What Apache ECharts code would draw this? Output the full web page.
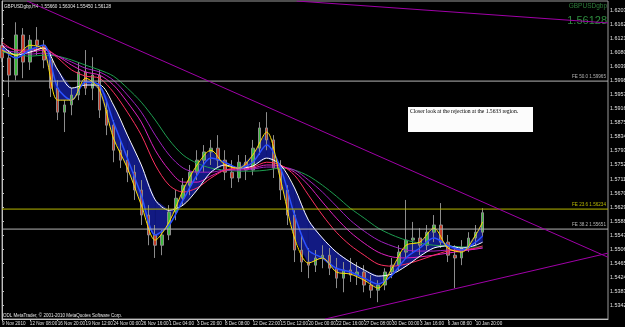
<!DOCTYPE html>
<html><head><meta charset="utf-8">
<script src="https://cdn.jsdelivr.net/npm/echarts@6/dist/echarts.min.js"></script>
<style>html,body{margin:0;padding:0;background:#000;}#c{width:625px;height:327px;}</style>
</head><body><div id="c"></div>
<script>
const tickLabels = ['9 Nov 2010','12 Nov 08:00','16 Nov 20:00','19 Nov 12:00','24 Nov 00:00','26 Nov 16:00','1 Dec 04:00','3 Dec 20:00','8 Dec 08:00','12 Dec 22:00','15 Dec 12:00','20 Dec 00:00','22 Dec 16:00','27 Dec 08:00','30 Dec 00:00','3 Jan 16:00','6 Jan 08:00','10 Jan 20:00'];
const slotCount = 88;
const opens = [1.6101,1.6064,1.6014,1.6131,1.6052,1.6116,1.6101,1.6058,1.5976,1.5906,1.5927,1.5956,1.6023,1.5976,1.6014,1.5912,1.5868,1.5795,1.5766,1.5731,1.5679,1.5606,1.5548,1.5518,1.5548,1.5615,1.5655,1.5693,1.5731,1.5766,1.5790,1.5801,1.5766,1.5731,1.5714,1.5760,1.5737,1.5801,1.5860,1.5825,1.5743,1.5679,1.5606,1.5504,1.5469,1.5460,1.5481,1.5489,1.5451,1.5422,1.5446,1.5431,1.5440,1.5402,1.5387,1.5402,1.5440,1.5460,1.5498,1.5533,1.5539,1.5518,1.5556,1.5577,1.5527,1.5489,1.5481,1.5510,1.5539,1.5556];
const closes = [1.6064,1.6014,1.6131,1.6052,1.6116,1.6101,1.6058,1.5976,1.5906,1.5927,1.5956,1.6023,1.5976,1.6014,1.5912,1.5868,1.5795,1.5766,1.5731,1.5679,1.5606,1.5548,1.5518,1.5548,1.5615,1.5655,1.5693,1.5731,1.5766,1.5790,1.5801,1.5766,1.5731,1.5714,1.5760,1.5737,1.5801,1.5860,1.5825,1.5743,1.5679,1.5606,1.5504,1.5469,1.5460,1.5481,1.5489,1.5451,1.5422,1.5446,1.5431,1.5440,1.5402,1.5387,1.5402,1.5440,1.5460,1.5498,1.5533,1.5539,1.5518,1.5556,1.5577,1.5527,1.5489,1.5481,1.5510,1.5539,1.5556,1.56128];
const lows = [1.6052,1.5950,1.5999,1.6005,1.6029,1.6072,1.6034,1.5950,1.5883,1.5848,1.5897,1.5941,1.5956,1.5941,1.5889,1.5839,1.5760,1.5743,1.5702,1.5650,1.5577,1.5518,1.5481,1.5489,1.5533,1.5591,1.5635,1.5664,1.5708,1.5731,1.5752,1.5743,1.5708,1.5685,1.5702,1.5708,1.5722,1.5781,1.5795,1.5714,1.5650,1.5577,1.5469,1.5440,1.5422,1.5440,1.5451,1.5431,1.5393,1.5381,1.5411,1.5402,1.5381,1.5364,1.5352,1.5387,1.5422,1.5446,1.5481,1.5498,1.5489,1.5504,1.5527,1.5510,1.5469,1.5393,1.5460,1.5498,1.5518,1.5545];
const highs = [1.6122,1.6087,1.6168,1.6151,1.6131,1.6154,1.6116,1.6081,1.5999,1.5941,1.5976,1.6052,1.6087,1.6066,1.6029,1.5941,1.5883,1.5825,1.5795,1.5752,1.5708,1.5635,1.5577,1.5562,1.5635,1.5679,1.5714,1.5752,1.5795,1.5810,1.5825,1.5839,1.5795,1.5766,1.5781,1.5781,1.5825,1.5877,1.5906,1.5839,1.5766,1.5693,1.5620,1.5548,1.5510,1.5504,1.5518,1.5510,1.5481,1.5469,1.5481,1.5469,1.5460,1.5431,1.5416,1.5451,1.5481,1.5518,1.5650,1.5586,1.5568,1.5577,1.5606,1.5641,1.5548,1.5518,1.5533,1.5556,1.5577,1.5626];

const maIdx = [0,2,4,6,8,10,12,14,16,18,20,22,24,26,28,30,32,34,36,38,40,42,44,46,48,50,52,54,56,58,60,62,64,66,68,69];
const maYellow = [1.6087,1.6072,1.6101,1.6087,1.5941,1.5941,1.6005,1.5970,1.5830,1.5743,1.5635,1.5533,1.5586,1.5679,1.5752,1.5795,1.5752,1.5743,1.5781,1.5848,1.5708,1.5539,1.5466,1.5481,1.5440,1.5434,1.5416,1.5393,1.5451,1.5518,1.5527,1.5568,1.5510,1.5498,1.5548,1.5586];
const maBlue = [1.6093,1.6064,1.6087,1.6101,1.5976,1.5941,1.5994,1.5985,1.5877,1.5772,1.5664,1.5548,1.5577,1.5650,1.5722,1.5772,1.5760,1.5743,1.5760,1.5810,1.5743,1.5606,1.5504,1.5481,1.5451,1.5440,1.5422,1.5405,1.5431,1.5481,1.5510,1.5539,1.5518,1.5504,1.5527,1.5545];
const maWhite = [1.6101,1.6072,1.6081,1.6093,1.6029,1.5976,1.5985,1.5985,1.5927,1.5839,1.5752,1.5650,1.5620,1.5635,1.5679,1.5731,1.5752,1.5743,1.5749,1.5772,1.5752,1.5685,1.5591,1.5539,1.5498,1.5469,1.5446,1.5428,1.5434,1.5457,1.5486,1.5510,1.5516,1.5510,1.5518,1.5527];
const maRibbon1 = [1.6110,1.6087,1.6087,1.6093,1.6064,1.6029,1.6011,1.6005,1.5964,1.5906,1.5839,1.5752,1.5693,1.5673,1.5685,1.5714,1.5737,1.5743,1.5746,1.5760,1.5752,1.5722,1.5664,1.5606,1.5556,1.5518,1.5489,1.5463,1.5457,1.5463,1.5475,1.5489,1.5501,1.5504,1.5510,1.5516];
const maRibbon2 = [1.6101,1.6087,1.6081,1.6087,1.6069,1.6043,1.6023,1.6014,1.5985,1.5935,1.5877,1.5795,1.5737,1.5702,1.5702,1.5720,1.5737,1.5740,1.5743,1.5752,1.5749,1.5731,1.5693,1.5644,1.5597,1.5556,1.5524,1.5498,1.5484,1.5481,1.5484,1.5489,1.5495,1.5501,1.5507,1.5510];
const maRibbon3 = [1.6087,1.6081,1.6075,1.6078,1.6069,1.6052,1.6034,1.6023,1.5999,1.5956,1.5906,1.5839,1.5781,1.5743,1.5731,1.5731,1.5737,1.5737,1.5740,1.5746,1.5746,1.5737,1.5708,1.5673,1.5632,1.5591,1.5559,1.5533,1.5516,1.5504,1.5501,1.5501,1.5504,1.5504,1.5507,1.5510];
const maGreen = [1.6081,1.6075,1.6069,1.6072,1.6069,1.6058,1.6043,1.6029,1.6011,1.5976,1.5935,1.5883,1.5825,1.5781,1.5757,1.5743,1.5737,1.5734,1.5734,1.5737,1.5743,1.5737,1.5720,1.5693,1.5661,1.5626,1.5597,1.5568,1.5548,1.5533,1.5524,1.5518,1.5516,1.5513,1.5513,1.5513];

const yTicks = [1.5342,1.5383,1.5424,1.5465,1.5506,1.5547,1.5588,1.5629,1.5670,1.5711,1.5752,1.5793,1.5834,1.5875,1.5916,1.5957,1.5998,1.6039,1.6080,1.6121,1.6162,1.6203];
const fibValues = [1.59965, 1.56234, 1.55651];
const fibTexts = ['FE 50.0 1.59965', 'FE 23.6 1.56234', 'FE 38.2 1.55651'];
const trendDown = [[3.6, 1.6230], [87, 1.5483]];
const trendUp = [[46.4, 1.5303], [87, 1.5495]];
const trendTop = [[42.3, 1.6230], [87, 1.6166]];
const symbolName = 'GBPUSDgbp';
const headerText = 'GBPUSDgbp,H4  1.55660 1.56304 1.55450 1.56128';
const noteText = 'Closer look at the rejection at the 1.5633 region.';
const lastPrice = '1.56128';

const cats = Array.from({length: slotCount}, (_, i) => String(i));
const candleData = opens.map((o, i) => [o, closes[i], lows[i], highs[i]]);
const pairs = arr => arr.map((v, k) => [maIdx[k], v]);
const lastIdx = opens.length - 1;
const bandData = maIdx.slice(0, -1).map((x, k) => [x, maYellow[k], maWhite[k], maIdx[k + 1], maYellow[k + 1], maWhite[k + 1]]);

const maLine = (name, arr, color, w) => ({
  name, type: 'line', xAxisIndex: 1, data: pairs(arr), smooth: 0.3, symbol: 'none',
  lineStyle: {color, width: w || 1}, z: 3
});
const trend = (arr) => ({type: 'line', xAxisIndex: 1, data: arr, symbol: 'none', lineStyle: {color: '#a000a8', width: 1}, z: 5});

const fibColors = ['#b4b4b4', '#b8b800', '#b4b4b4'];
const fibSeries = fibValues.map((v, k) => ({
  type: 'line', xAxisIndex: 1, data: [[0, v], [slotCount - 1, v]], symbol: 'none', z: 4,
  lineStyle: {color: fibColors[k], width: 1},
  endLabel: {show: true, formatter: fibTexts[k], color: fibColors[k], fontSize: 4.6, fontFamily: 'Liberation Sans', offset: [-44, -4]}
}));

const chart = echarts.init(document.getElementById('c'), null, {renderer: 'canvas'});
chart.setOption({
  animation: false,
  backgroundColor: '#000',
  grid: {left: 2, right: 17, top: 1, bottom: 8, show: true, borderColor: '#9a9a9a', borderWidth: 1, outerBoundsMode: 'none', containLabel: false},
  xAxis: [{
    type: 'category', data: cats, boundaryGap: false,
    axisLine: {lineStyle: {color: '#c0c0c0'}},
    axisTick: {length: 2, lineStyle: {color: '#c0c0c0'}, interval: (i) => i % 4 === 0 && i / 4 < tickLabels.length},
    axisLabel: {interval: 3, align: 'left', margin: 2, fontSize: 4.6, color: '#e0e0e0', fontFamily: 'Liberation Sans', hideOverlap: false, showMinLabel: true,
      formatter: (v, i) => (i % 4 === 0 && tickLabels[i / 4]) ? tickLabels[i / 4] : ''},
    splitLine: {show: false}
  }, {
    type: 'value', min: 0, max: slotCount - 1, show: false
  }],
  yAxis: {
    type: 'value', position: 'right', min: 1.5303, max: 1.6230, scale: true,
    axisLine: {show: true, lineStyle: {color: '#c0c0c0'}},
    axisTick: {show: true, length: 2, lineStyle: {color: '#c0c0c0'}, customValues: yTicks},
    axisLabel: {customValues: yTicks, formatter: v => v.toFixed(5), fontSize: 5.4, margin: 2, color: '#e0e0e0', fontFamily: 'Liberation Sans'},
    splitLine: {show: false}
  },
  series: [
    {
      type: 'custom', xAxisIndex: 1, data: bandData, z: 1, clip: true, silent: true,
      encode: {x: [0, 3], y: [1, 2, 4, 5]},
      renderItem: (params, api) => {
        const a = api.coord([api.value(0), api.value(1)]);
        const b = api.coord([api.value(3), api.value(4)]);
        const c = api.coord([api.value(3), api.value(5)]);
        const d = api.coord([api.value(0), api.value(2)]);
        return {type: 'polygon', shape: {points: [a, b, c, d]}, style: {fill: '#121a82', stroke: '#121a82', lineWidth: 0.5}};
      }
    },
    {
      type: 'candlestick', data: candleData, barWidth: 3, z: 2,
      itemStyle: {color: '#3cb83c', color0: '#c83c28', borderColor: '#8c8c8c', borderColor0: '#8c8c8c', borderWidth: 1},
      markLine: {silent: true, symbol: 'none', data: [{
        yAxis: closes[lastIdx], lineStyle: {opacity: 0},
        label: {show: true, position: 'end', formatter: lastPrice, color: '#000', backgroundColor: '#fff', fontSize: 5.2, padding: [1, 2], distance: 1, fontFamily: 'Liberation Sans'}
      }]}
    },
    ...fibSeries,
    maLine('green', maGreen, '#1e9e50', 1),
    maLine('r3', maRibbon3, '#a020c0', 1),
    maLine('r2', maRibbon2, '#e020c0', 1),
    maLine('r1', maRibbon1, '#ff3060', 1),
    maLine('white', maWhite, '#ffffff', 1),
    maLine('blue', maBlue, '#2a50ff', 1.5),
    maLine('yellow', maYellow, '#ffe000', 1),
    trend(trendDown), trend(trendUp), trend(trendTop)
  ],
  graphic: [
    {type: 'text', left: 4, top: 4, style: {text: headerText, fill: '#e8e8e8', font: '4.6px "Liberation Sans"'}},
    {type: 'text', right: 18, top: 3, style: {text: symbolName, fill: '#2e7d3a', font: '6.5px "Liberation Sans"'}},
    {type: 'text', right: 18, top: 15, style: {text: lastPrice, fill: '#2e8b3e', font: '11px "Liberation Sans"'}},
    {type: 'text', left: 3, top: 313, style: {text: 'ODL MetaTrader, © 2001-2010 MetaQuotes Software Corp.', fill: '#e8e8e8', font: '4.5px "Liberation Sans"'}},
    {type: 'rect', shape: {x: 408, y: 107, width: 125, height: 25}, style: {fill: '#fcfcfc'}, z: 10},
    {type: 'text', x: 410, y: 109, style: {text: noteText, fill: '#000', font: '5.6px "Liberation Serif"'}, z: 11}
  ]
});
</script></body></html>
